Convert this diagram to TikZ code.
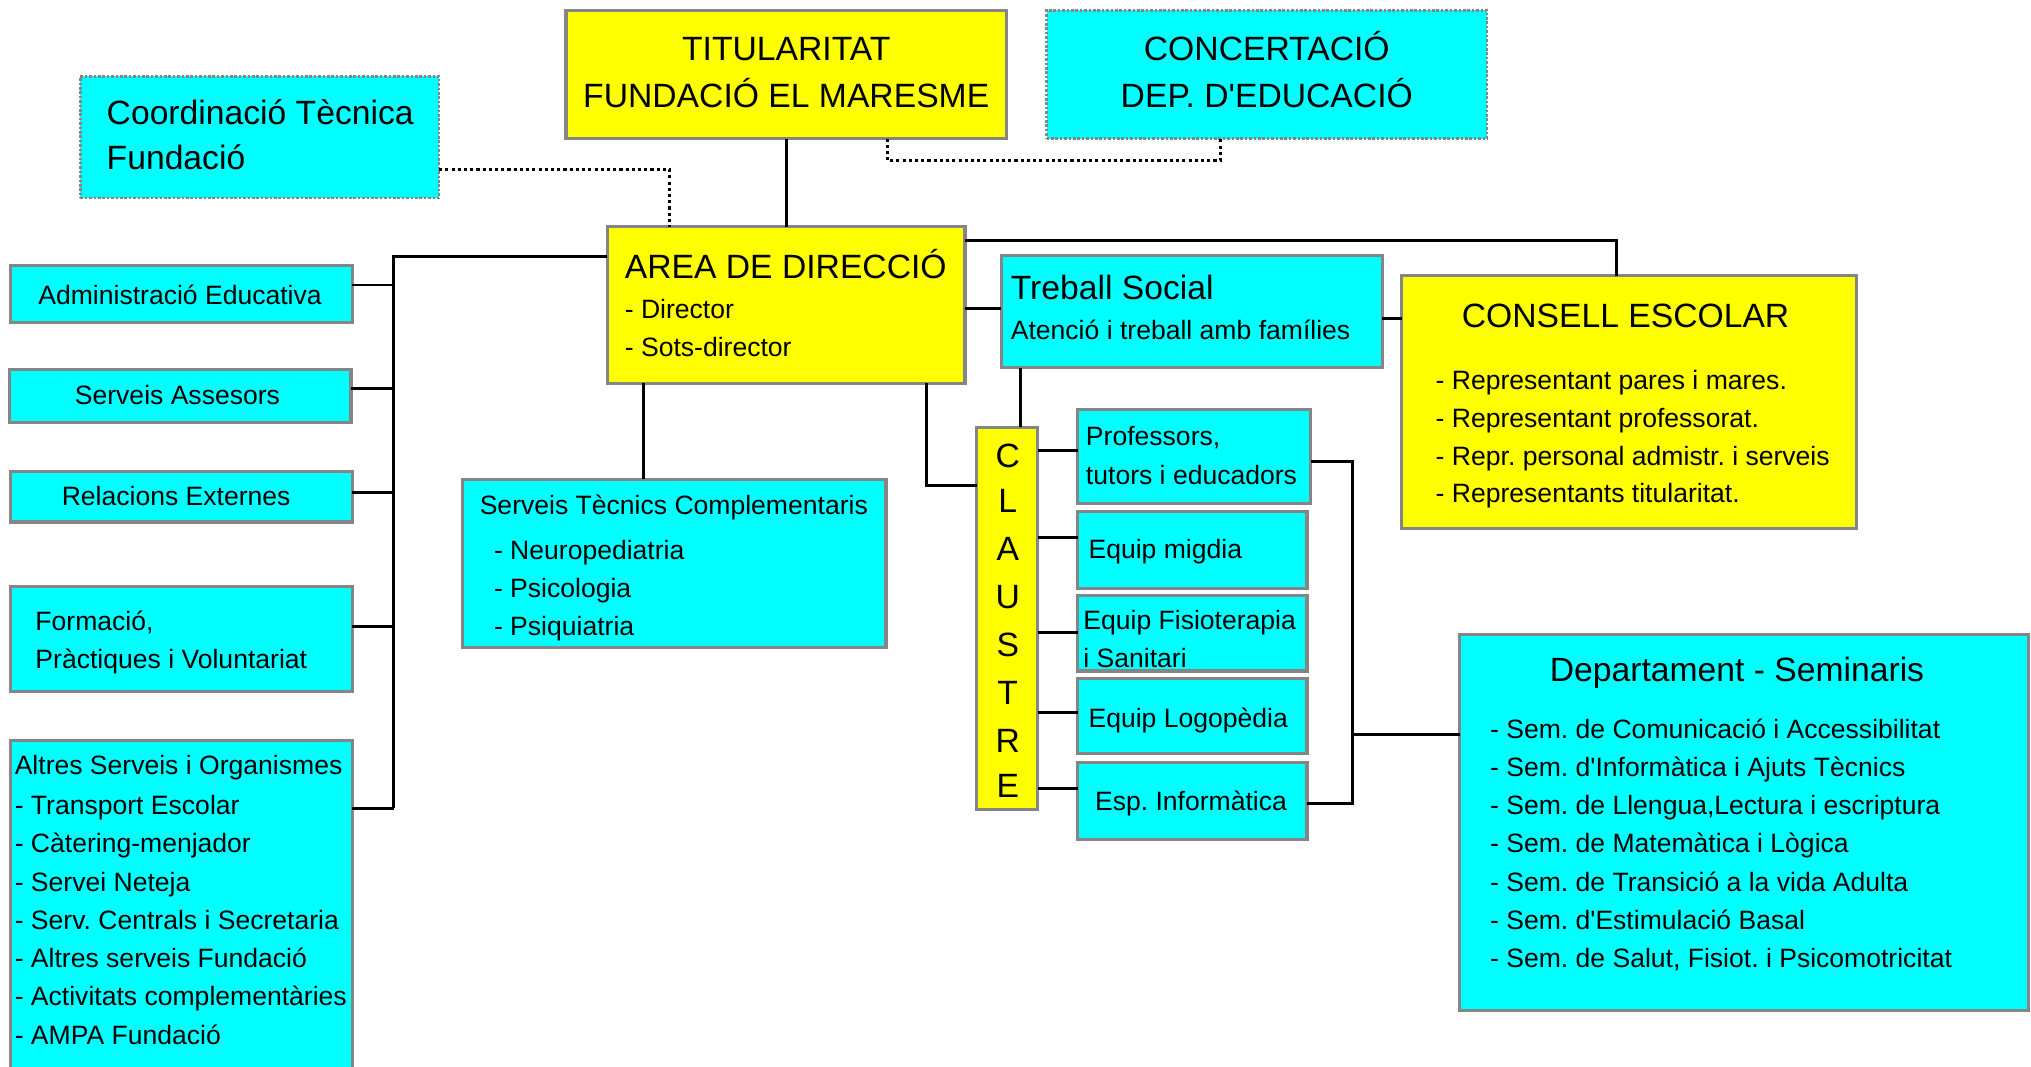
\documentclass[tikz,border=0pt]{standalone}
\usepackage{fontspec}
\setmainfont{Liberation Sans}
\definecolor{cy}{HTML}{00FFFF}
\definecolor{ye}{HTML}{FFFF00}
\definecolor{bd}{HTML}{858585}
\newcommand\mkbox[6]{\node[#6, anchor=north west, minimum width={(#4-#2)*0.5pt}, minimum height={(#5-#3)*0.5pt}] (#1) at (#2,#3) {};}
\frenchspacing
\begin{document}
\begin{tikzpicture}[x=0.5pt,y=-0.5pt,
  box/.style={draw=bd, line width=1.2pt, inner sep=0pt, outer sep=0pt},
  cbox/.style={box, fill=cy},
  ybox/.style={box, fill=ye},
  dbox/.style={cbox, line width=1pt, dash pattern=on 1pt off 0.7pt},
  lt/.style={font=\fontsize{13}{18}\selectfont, inner sep=0pt},
  st/.style={font=\fontsize{10.25}{14.75}\selectfont, inner sep=0pt},
  conn/.style={line width=1.1pt},
  dotl/.style={line width=1.2pt, dash pattern=on 1.2pt off 1.2pt}]
\path[use as bounding box, fill=white] (0,0) rectangle (1568,823);

% boxes
\mkbox{coord}{62}{59}{339}{153}{dbox}
\mkbox{tit}{437}{8}{777}{107}{ybox}
\mkbox{conc}{808}{8}{1148}{107}{dbox}
\mkbox{area}{469}{175}{745}{296}{ybox}
\mkbox{adm}{8}{205}{272}{249}{cbox}
\mkbox{sass}{7}{285}{271}{326}{cbox}
\mkbox{rel}{8}{364}{272}{403}{cbox}
\mkbox{form}{8}{453}{272}{534}{cbox}
\mkbox{alt}{8}{572}{272}{832}{cbox}
\mkbox{stc}{357}{370}{684}{500}{cbox}
\mkbox{ts}{773}{197}{1067}{284}{cbox}
\mkbox{cons}{1082}{213}{1433}{408}{ybox}
\mkbox{cla}{754}{330}{801}{625}{ybox}
\mkbox{prof}{832}{316}{1012}{389}{cbox}
\mkbox{mig}{832}{395}{1009}{454}{cbox}
\mkbox{fis}{832}{460}{1009}{518}{cbox}
\mkbox{logo}{832}{524}{1009}{582}{cbox}
\mkbox{esp}{832}{589}{1009}{648}{cbox}
\mkbox{dep}{1127}{490}{1566}{780}{cbox}

% connectors
\draw[conn] (tit.south) -- (area.north);
\draw[dotl] (coord.east |- 0,131) -| (517,0 |- area.north);
\draw[dotl] (685,0 |- tit.south) |- (942,124) -- (942,0 |- conc.south);
\coordinate (busL) at (304,198);
\draw[conn] (area.west |- busL) -- (busL) -- (304,624);
\draw[conn] (adm.east |- 0,220) -- (busL |- 0,220);
\draw[conn] (sass.east |- 0,300) -- (busL |- 0,300);
\draw[conn] (rel.east |- 0,380) -- (busL |- 0,380);
\draw[conn] (form.east |- 0,484) -- (busL |- 0,484);
\draw[conn] (alt.east |- 0,624) -- (busL |- 0,624);
\draw[conn] (497,0 |- area.south) -- (497,0 |- stc.north);
\draw[conn] (715,0 |- area.south) |- (cla.west |- 0,375);
\draw[conn] (area.east |- 0,238) -- (ts.west |- 0,238);
\draw[conn] (area.east |- 0,186) -| (1248,0 |- cons.north);
\draw[conn] (ts.east |- 0,246) -- (cons.west |- 0,246);
\draw[conn] (788,0 |- ts.south) -- (788,0 |- cla.north);
\draw[conn] (cla.east |- 0,348) -- (prof.west |- 0,348);
\draw[conn] (cla.east |- 0,415) -- (mig.west |- 0,415);
\draw[conn] (cla.east |- 0,488) -- (fis.west |- 0,488);
\draw[conn] (cla.east |- 0,550) -- (logo.west |- 0,550);
\draw[conn] (cla.east |- 0,609) -- (esp.west |- 0,609);
\coordinate (busR) at (1044,567);
\draw[conn] (prof.east |- 0,356) -| (busR |- 0,620) -- (esp.east |- 0,620);
\draw[conn] (busR) -- (dep.west |- busR);

% texts
\node[lt, anchor=base west] (coord1) at (82,96) {Coordinació Tècnica};
\node[lt, anchor=base west] (coord2) at (82,131) {Fundació};
\node[lt, anchor=base] (tit1) at (607,47) {TITULARITAT};
\node[lt, anchor=base] (tit2) at (607,83) {FUNDACIÓ EL MARESME};
\node[lt, anchor=base] (conc1) at (978,47) {CONCERTACIÓ};
\node[lt, anchor=base] (conc2) at (978,83) {DEP. D\textquotesingle EDUCACIÓ};
\node[lt, anchor=base west] (area1) at (482,215) {AREA DE DIRECCIÓ};
\node[st, anchor=base west] (area2) at (482,246) {- Director};
\node[st, anchor=base west] (area3) at (482,275) {- Sots-director};
\node[st, anchor=base] (adm1) at (139,235) {Administració Educativa};
\node[st, anchor=base] (sass1) at (137,312) {Serveis Assesors};
\node[st, anchor=base] (rel1) at (136,390) {Relacions Externes};
\node[st, anchor=base west] (form1) at (27,487) {Formació,};
\node[st, anchor=base west] (form2) at (27,516) {Pràctiques i Voluntariat};
\node[st, anchor=base west] (alt0) at (11,598) {Altres Serveis i Organismes};
\foreach \t [count=\i] in {- Transport Escolar, - Càtering-menjador, - Servei Neteja,
  - Serv. Centrals i Secretaria, - Altres serveis Fundació, - Activitats complementàries, - AMPA Fundació}
  {\node[st, anchor=base west] (alt\i) at (11,{599.5+29.5*\i}) {\t};}
\node[st, anchor=base west] (stc0) at (370,397) {Serveis Tècnics Complementaris};
\foreach \t [count=\i from 0] in {- Neuropediatria, - Psicologia, - Psiquiatria}
  {\node[st, anchor=base west] (stc\i x) at (381,{432+29.5*\i}) {\t};}
\node[lt, anchor=base west] (ts1) at (780,231) {Treball Social};
\node[st, anchor=base west] (ts2) at (780,262) {Atenció i treball amb famílies};
\node[lt, anchor=base] (cons0) at (1255,253) {CONSELL ESCOLAR};
\foreach \t [count=\i from 0] in {- Representant pares i mares., - Representant professorat.,
  - Repr. personal admistr. i serveis, - Representants titularitat.}
  {\node[st, anchor=base west] (cons\i x) at (1108,{301+29*\i}) {\t};}
\foreach \t/\yy [count=\i] in {C/361, L/396, A/433, U/470, S/507, T/544, R/581, E/616}
  {\node[lt, anchor=base] (claL\i) at (778,\yy) {\t};}
\node[st, anchor=base west] (prof1) at (838,344) {Professors,};
\node[st, anchor=base west] (prof2) at (838,374) {tutors i educadors};
\node[st, anchor=base west] (mig1) at (840,431) {Equip migdia};
\node[st, anchor=base west] (fis1) at (836,486) {Equip Fisioterapia};
\node[st, anchor=base west] (fis2) at (836,515) {i Sanitari};
\node[st, anchor=base west] (logo1) at (840,562) {Equip Logopèdia};
\node[st, anchor=base west] (esp1) at (845,626) {Esp. Informàtica};
\node[lt, anchor=base] (dep0) at (1341,526) {Departament - Seminaris};
\foreach \t [count=\i from 0] in {- Sem. de Comunicació i Accessibilitat,
  - Sem. d\textquotesingle Informàtica i Ajuts Tècnics,
  {- Sem. de Llengua,Lectura i escriptura},
  - Sem. de Matemàtica i Lògica,
  - Sem. de Transició a la vida Adulta,
  - Sem. d\textquotesingle Estimulació Basal,
  {- Sem. de Salut, Fisiot. i Psicomotricitat}}
  {\node[st, anchor=base west] (dep\i x) at (1150,{570+29.5*\i}) {\t};}
\end{tikzpicture}
\end{document}
